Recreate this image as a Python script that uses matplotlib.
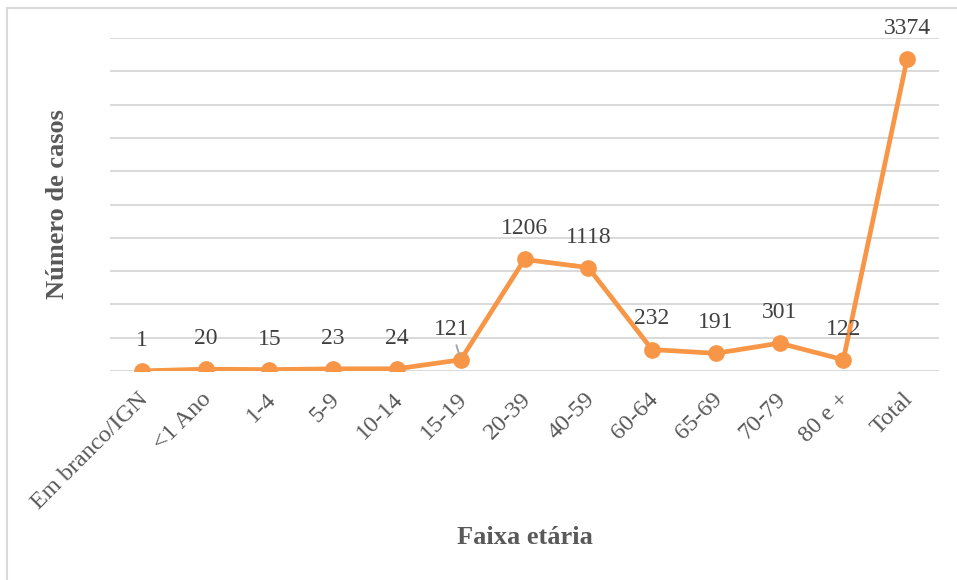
import matplotlib.pyplot as plt
from matplotlib.lines import Line2D
from matplotlib.transforms import ScaledTranslation

plt.rcParams['font.family'] = ['Liberation Serif', 'DejaVu Serif']

faixas = ['Em branco/IGN', '<1 Ano', '1-4', '5-9', '10-14', '15-19', '20-39',
          '40-59', '60-64', '65-69', '70-79', '80 e +', 'Total']
casos = [1, 20, 15, 23, 24, 121, 1206, 1118, 232, 191, 301, 122, 3374]

orange = '#F79646'
W, H = 957, 580
fig = plt.figure(figsize=(W / 100, H / 100), dpi=100)
ax = fig.add_axes([110 / W, (H - 371) / H, 829 / W, 333 / H])

x = list(range(len(faixas)))
ax.plot(x, casos, color=orange, lw=3.4, marker='o', ms=11, zorder=3,
        solid_capstyle='round', solid_joinstyle='round')

ax.set_xlim(-0.5, len(faixas) - 0.5)
ax.set_ylim(0, 3600)
ax.set_yticks(range(0, 3601, 360))
ax.yaxis.grid(True, color='#D9D9D9', lw=1.4)
ax.set_axisbelow(True)
ax.tick_params(axis='y', left=False, labelleft=False)
ax.tick_params(axis='x', bottom=False, pad=6)
for s in ax.spines.values():
    s.set_visible(False)

ax.set_xticks(x)
ax.set_xticklabels(faixas, rotation=45, ha='right', va='center',
                   rotation_mode='anchor', fontsize=17.5, color='#595959')
for lab in ax.get_xticklabels():
    lab.set_transform(lab.get_transform() + ScaledTranslation(0.03, -0.12, fig.dpi_scale_trans))

# data labels
for i, v in enumerate(casos):
    if faixas[i] == '15-19':
        ax.annotate(str(v), (i, v), xytext=(-6.5, 22), textcoords='offset points',
                    ha='center', va='center', fontsize=17, color='#404040',
                    arrowprops=dict(arrowstyle='-', color='#A6A6A6', lw=1.4,
                                    shrinkA=2, shrinkB=4))
    else:
        ax.annotate(str(v), (i, v), xytext=(0, 22), textcoords='offset points',
                    ha='center', va='center', fontsize=17, color='#404040')

ax.set_ylabel('Número de casos', fontsize=19, fontweight='bold', color='#595959')
ax.yaxis.set_label_coords(-52 / 829, 0.5)
ax.set_xlabel('Faixa etária', fontsize=19, fontweight='bold', color='#595959')
ax.xaxis.set_label_coords(0.5, (371 - 538) / 333)
ax.xaxis.label.set_va('center')
ax.yaxis.label.set_va('center')

# chart frame (top and left edges visible)
fig.add_artist(Line2D([7 / W, 1], [1 - 8 / H, 1 - 8 / H], color='#D9D9D9', lw=1.5))
fig.add_artist(Line2D([7 / W, 7 / W], [0, 1 - 8 / H], color='#D9D9D9', lw=1.5))

fig.savefig('out.png', dpi=100)
